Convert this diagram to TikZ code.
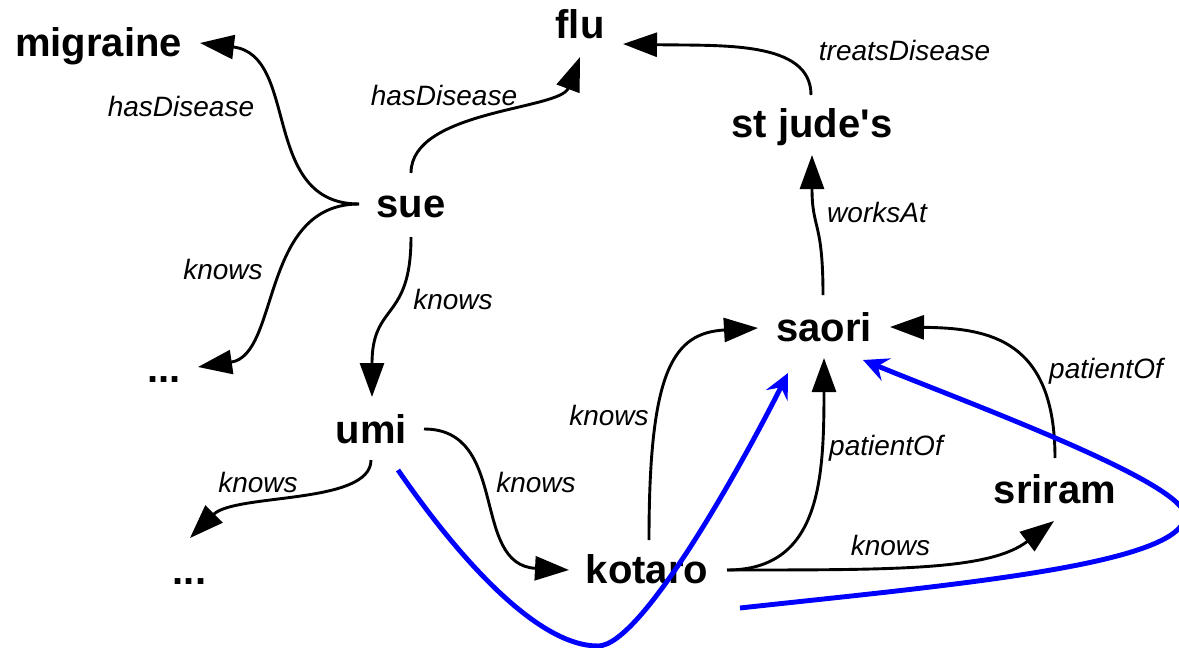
\documentclass[tikz,border=0pt]{standalone}
\usepackage{fontspec}
\setmainfont{Liberation Sans}
\usetikzlibrary{arrows.meta}

\tikzset{
  entity/.style={anchor=base, inner sep=0pt,
    font=\fontsize{40}{48}\selectfont\bfseries},
  rel/.style={anchor=base, inner sep=0pt,
    font=\fontsize{28}{34}\selectfont\itshape},
  link/.style={draw=black, line width=2.9pt,
    -{Triangle[length=34pt,width=24pt]}},
  path link/.style={draw=blue, line width=4.9pt,
    -{Stealth[length=25pt,width=24pt,inset=9pt]}},
}

\begin{document}
\begin{tikzpicture}[x=1pt, y=-1pt]
\useasboundingbox (0,0) rectangle (1179,648);

% entities
\node[entity] (migraine) at (98.5,56)  {migraine};
\node[entity] (flu)      at (580,38)   {flu};
\node[entity] (stjude)   at (812,137)  {st jude\textquotesingle s};
\node[entity] (sue)      at (411,217)  {sue};
\node[entity] (saori)    at (824,341)  {saori};
\node[entity] (sriram)   at (1055,503) {sriram};
\node[entity] (umi)      at (371.5,443){umi};
\node[entity] (kotaro)   at (647,583)  {kotaro};
\node[entity] (moreA)    at (164,382)  {...};
\node[entity] (moreB)    at (189.5,584){...};

% relations from sue
\draw[link] ([shift={(-52,-13)}]sue.base)
  .. controls +(-99,0) and +(100,12) .. ([shift={(101.5,-13)}]migraine.base);
\draw[link] ([shift={(0,-44)}]sue.base)
  .. controls +(0,-63) and +(-20,53) .. ([shift={(0,19)}]flu.base);
\draw[link] ([shift={(-52,-13)}]sue.base)
  .. controls +(-99,0) and +(82,-12) .. ([shift={(34,-15)}]moreA.base);
\draw[link] ([shift={(0,20)}]sue.base)
  .. controls +(0,85) and +(0,-95) .. ([shift={(0.5,-46)}]umi.base);

% hospital relations
\draw[link] ([shift={(-1,-42)}]stjude.base)
  .. controls +(0,-55) and +(97,2) .. ([shift={(43,6)}]flu.base);
\draw[link] ([shift={(-1,-46)}]saori.base)
  .. controls +(0,-75) and +(0,75) .. ([shift={(0,18)}]stjude.base);

% relations from umi
\draw[link] ([shift={(-0.5,17)}]umi.base)
  .. controls +(0,45) and +(45,-45) .. ([shift={(0.5,-46)}]moreB.base);
\draw[link] ([shift={(52.5,-14)}]umi.base)
  .. controls +(86,0) and +(-99,-5) .. ([shift={(-78,-13)}]kotaro.base);

% relations from kotaro
\draw[link] ([shift={(2,-43)}]kotaro.base)
  .. controls +(0,-170) and +(-85,5) .. ([shift={(-66,-13)}]saori.base);
\draw[link] ([shift={(80,-13)}]kotaro.base)
  .. controls +(93,0) and +(0,122) .. ([shift={(0,17)}]saori.base);
\draw[link] ([shift={(80,-13)}]kotaro.base)
  .. controls +(173,0) and +(-64,49) .. ([shift={(-1,18)}]sriram.base);

% relation from sriram
\draw[link] ([shift={(0,-45)}]sriram.base)
  .. controls +(0,-118) and +(100,1) .. ([shift={(66,-14)}]saori.base);

% highlighted paths
\coordinate (dip) at (598,646);
\coordinate (swing) at (1185,515);
\begin{scope}
\clip (0,0) rectangle (1179,648);
\draw[path link] ([shift={(26.5,27)}]umi.base)
  .. controls +(62,90) and +(-60,0) .. (dip)
  .. controls +(45,0) and +(-40,80) .. ([shift={(-36,32)}]saori.base);
\draw[path link] ([shift={(93,25)}]kotaro.base)
  .. controls +(210,-23) and +(0,50) .. (swing)
  .. controls +(-5,-35) and +(97,40) .. ([shift={(39,19)}]saori.base);
\end{scope}

% relation labels
\node[rel] (l1)  at (181,116)   {hasDisease};
\node[rel] (l2)  at (444,105)   {hasDisease};
\node[rel] (l3)  at (904.5,60)  {treatsDisease};
\node[rel] (l4)  at (877,222)   {worksAt};
\node[rel] (l5)  at (223,279)   {knows};
\node[rel] (l6)  at (453,309)   {knows};
\node[rel] (l7)  at (258,492)   {knows};
\node[rel] (l8)  at (536,492)   {knows};
\node[rel] (l9)  at (609,425)   {knows};
\node[rel] (l10) at (886,455)   {patientOf};
\node[rel] (l11) at (1106,378)  {patientOf};
\node[rel] (l12) at (890.5,555) {knows};
\end{tikzpicture}
\end{document}
